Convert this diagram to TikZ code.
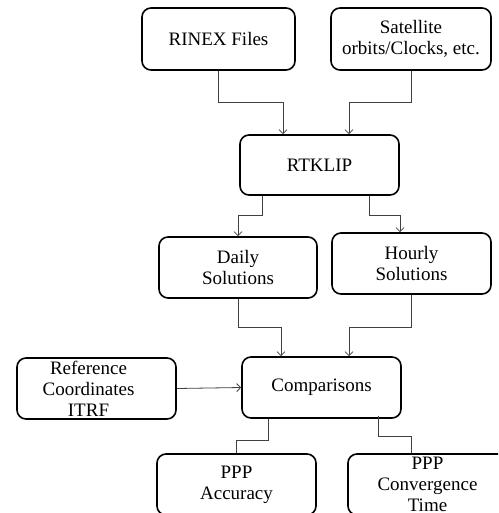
\documentclass[tikz,border=0pt]{standalone}
\usepackage{fontspec}
\setmainfont{Liberation Serif}
\usetikzlibrary{arrows.meta}
\begin{document}
\begin{tikzpicture}[x=1pt,y=-1pt,
  box/.style={draw=black,line width=1.6pt,rounded corners=9pt,minimum width=159pt,minimum height=61pt,
    inner sep=0pt,align=center,font=\fontsize{19}{21}\selectfont},
  conn/.style={draw=black!75,line width=0.8pt},
  arr/.style={conn,-{Straight Barb[length=4pt,width=8pt]}}]
\useasboundingbox (0,0) rectangle (498,513);
\clip (0,0) rectangle (498,513);
\fill[white] (0,0) rectangle (498,513);
\node[box,minimum width=153pt,minimum height=62pt] (rinex) at (218.5,39) {RINEX Files};
\node[box,minimum width=160pt,minimum height=62pt] (sat) at (411,39) {Satellite\\orbits/Clocks, etc.};
\node[box,minimum height=60pt] (rtk) at (319.5,165) {RTKLIP};
\node[box,minimum width=158pt] (daily) at (238,267.5) {Daily\\Solutions};
\node[box] (hourly) at (411.5,263.5) {Hourly\\Solutions};
\node[box] (comp) at (321.5,387.5) {Comparisons};
\node[box,label={[xshift=-8pt,align=center,font=\fontsize{19}{21}\selectfont]center:Reference\\Coordinates\\ITRF}] (ref) at (96.5,388.5) {};
\node[box] (acc) at (236.5,484.5) {PPP\\Accuracy};
\node[box,minimum height=61pt,label={[yshift=0pt,align=center,font=\fontsize{19}{21}\selectfont]center:PPP\\Convergence\\Time}] (conv) at (427.5,484.5) {};
% connectors
\draw[arr] (rinex.south) -- ++(0,32) -| ([xshift=-36.5]rtk.north);
\draw[arr] (sat.south) -- ++(0,32) -| ([xshift=29.5]rtk.north);
\draw[arr] ([xshift=-57.5]rtk.south) -- ++(0,20) -| (daily.north);
\draw[arr] ([xshift=49.5]rtk.south) -- ++(0,20) -| ([xshift=-11.5]hourly.north);
\draw[arr] (daily.south) -- ++(0,29) -| ([xshift=-40.5]comp.north);
\draw[arr] (hourly.south) -- ++(0,33) -| ([xshift=27.5]comp.north);
\draw[arr] (ref.east) -- (comp.west);
\draw[conn] ([xshift=-53.5]comp.south) -- ++(0,22) -| (acc.north);
\draw[conn] ([xshift=56.5,yshift=3]comp.south) -- ++(0,21) -| ([xshift=-16.5]conv.north);
\end{tikzpicture}
\end{document}
